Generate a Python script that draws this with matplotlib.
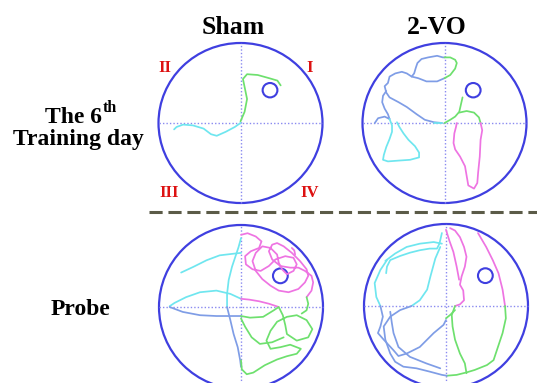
import matplotlib
matplotlib.use('Agg')
import matplotlib.pyplot as plt
from matplotlib.patches import Circle

# ---- figure size in pixels ----
W, H = 537, 383

# ---- swim paths, pool coordinates (pool radius = 100, origin at centre) ----
# Sham, 6th training day
sham_train = {
    'green': [[(0, 2), (5, 14), (8, 30), (5, 45), (3, 55), (8, 61), (21, 60),
               (35, 56), (45, 53), (49, 47)]],
    'cyan': [[(0, 0), (-7, -5), (-18, -11), (-29, -16), (-36, -14), (-45, -7),
              (-58, -3), (-70, -2), (-78, -5), (-81, -8)]],
}
# 2-VO, 6th training day
vo_train = {
    'lightblue': [
        [(-3, 0), (-13, 1), (-24, 4), (-34, 11), (-46, 20), (-56, 26), (-67, 32),
         (-71, 38), (-73, 46), (-69, 50), (-67, 58), (-60, 62), (-52, 64),
         (-46, 62), (-40, 58), (-37, 62), (-35, 69), (-33, 75), (-28, 80),
         (-20, 82), (-9, 84), (-2, 82), (0, 82)],
        [(0, 56), (-9, 52), (-22, 52), (-32, 56), (-40, 58)],
        [(-71, 40), (-75, 34), (-76, 26), (-73, 18), (-69, 11), (-67, 5)],
        [(-85, 0), (-81, 6), (-73, 8), (-67, 5)],
    ],
    'cyan': [
        [(-67, 5), (-64, -3), (-64, -11), (-67, -20), (-71, -30), (-74, -40),
         (-75, -46), (-69, -48), (-56, -47), (-42, -46), (-31, -43), (-31, -37),
         (-36, -29), (-44, -21), (-50, -13), (-55, -5), (-58, 1)],
        [(-13, 0), (-3, 0)],
    ],
    'green': [
        [(0, 82), (7, 82), (13, 79), (15, 75), (13, 68), (7, 60), (0, 56)],
        [(22, 32), (20, 23), (18, 14), (13, 8), (7, 4), (0, 0)],
        [(18, 13), (27, 15), (36, 13), (42, 7), (44, 0)],
    ],
    'magenta': [[(44, 0), (46, -9), (44, -21), (43, -42), (41, -62), (40, -75),
                 (36, -82), (29, -78), (27, -66), (25, -54), (19, -42),
                 (13, -33), (11, -25), (12, -13), (14, -5), (15, 0)]],
}
# Sham, probe trial
sham_probe = {
    'cyan': [
        [(-73, 42), (-58, 49), (-42, 57), (-26, 63), (-9, 65), (0, 66)],
        [(0, 84), (-3, 73), (-7, 61), (-11, 49), (-15, 33), (-17, 16), (-17, 0)],
        [(0, 10), (-13, 16), (-30, 20), (-50, 18), (-67, 12), (-81, 5), (-87, 1)],
    ],
    'lightblue': [
        [(-17, 0), (-13, -16), (-9, -33), (-4, -49), (-1, -65), (0, -73)],
        [(-87, 0), (-71, -6), (-50, -10), (-30, -11), (0, -11)],
    ],
    'magenta': [
        [(0, 88), (8, 90), (18, 86), (25, 80), (22, 72), (12, 68), (5, 62),
         (6, 52), (14, 46), (24, 44), (34, 50), (42, 58), (54, 62), (64, 60),
         (68, 52), (64, 44), (56, 40), (50, 46), (46, 54), (44, 64), (36, 72),
         (26, 74), (18, 66), (14, 56), (18, 44), (26, 34), (36, 26), (46, 20),
         (58, 18), (70, 22), (78, 30), (82, 38), (80, 46), (72, 56), (62, 66),
         (52, 74), (44, 78), (38, 76), (34, 68), (38, 58), (48, 50), (60, 48),
         (70, 48), (78, 44), (86, 38), (88, 30), (86, 20), (80, 12)],
        [(0, 10), (10, 9), (22, 7), (34, 4), (46, 0)],
        [(62, 72), (65, 69), (66, 64)],
    ],
    'green': [
        [(0, -11), (11, -13), (27, -12), (40, -4), (46, 0), (51, -10), (54, -22),
         (56, -33), (68, -41), (82, -37), (87, -27), (80, -16), (68, -10),
         (56, -12), (44, -18), (36, -29), (31, -41), (36, -51), (48, -49),
         (60, -46), (73, -51), (68, -57), (56, -60), (44, -64), (29, -71),
         (15, -80), (7, -82), (1, -76), (0, -65)],
        [(0, -14), (5, -24), (13, -37), (23, -45), (38, -43), (52, -37)],
        [(80, 12), (82, 4), (80, -4), (74, -8)],
    ],
}
# 2-VO, probe trial
vo_probe = {
    'magenta': [
        [(5, 95), (11, 92), (17, 84), (22, 72), (25, 60), (23, 48), (19, 36),
         (17, 26), (21, 19), (22, 7), (17, 2), (11, 0)],
        [(0, 93), (4, 80), (9, 66), (13, 48), (16, 32)],
        [(39, 89), (49, 72), (57, 56), (64, 40), (69, 20), (72, 0)],
    ],
    'green': [
        [(72, 0), (73, -15), (69, -33), (62, -54), (58, -66), (50, -72),
         (35, -78), (25, -81), (13, -84), (1, -85)],
        [(11, 0), (7, -11), (8, -25), (11, -41), (17, -58), (23, -70), (25, -82)],
        [(0, -15), (5, -11), (11, -5)],
    ],
    'cyan': [
        [(-5, 89), (-8, 76), (-11, 70), (-20, 70), (-32, 68), (-44, 65),
         (-56, 61), (-68, 56), (-72, 48), (-73, 40)],
        [(-7, 72), (-13, 58), (-19, 36), (-23, 20), (-32, 7), (-42, 0)],
        [(-72, 56), (-80, 44), (-87, 28), (-85, 11), (-80, 0)],
        [(-74, 55), (-62, 64), (-48, 72), (-32, 76), (-15, 78), (-5, 76)],
    ],
    'lightblue': [
        [(-80, 0), (-77, -13), (-80, -25), (-83, -33), (-76, -41), (-64, -54),
         (-58, -61), (-48, -58), (-32, -50), (-15, -33), (-3, -23), (0, -17)],
        [(-42, 0), (-56, -5), (-68, -13), (-76, -25), (-74, -41), (-68, -58),
         (-62, -68), (-52, -74), (-36, -76), (-20, -80), (-5, -84), (1, -85)],
        [(-68, -7), (-66, -21), (-64, -33), (-58, -50), (-44, -62), (-24, -70),
         (-7, -76)],
    ],
}

# platform positions (pool coords) for each panel
platforms = [(36, 41), (35, 41), (48, 38), (48, 37)]
platform_r = 9

col_titles = ['Sham', '2-VO']
quadrants = ['I', 'II', 'III', 'IV']

colors = {'green': '#6ee06e', 'cyan': '#6fe6ef',
          'lightblue': '#7f9de6', 'magenta': '#ee74e2'}
pool_col = '#3f3fe0'
cross_col = '#8a8af0'

# panel centres / radii in pixels (x, y-from-top, rx, ry)
panels = [(240.5, 123, 82, 80), (444.5, 123, 82, 80),
          (241, 307, 82, 82), (446, 306, 82, 82)]
paths = [sham_train, vo_train, sham_probe, vo_probe]

serif = 'Liberation Serif'

fig = plt.figure(figsize=(W / 100, H / 100), dpi=100)
L = 110
for (cx, cy, rx, ry), pdata, plat in zip(panels, paths, platforms):
    ax = fig.add_axes([(cx - L / 100 * rx) / W, (H - cy - L / 100 * ry) / H,
                       2 * L / 100 * rx / W, 2 * L / 100 * ry / H])
    ax.set_xlim(-L, L)
    ax.set_ylim(-L, L)
    ax.axis('off')
    ax.plot([-100, 100], [0, 0], color=cross_col, lw=1, ls=(0, (1, 1.5)))
    ax.plot([0, 0], [-100, 100], color=cross_col, lw=1, ls=(0, (1, 1.5)))
    for cname, segs in pdata.items():
        for seg in segs:
            xs = [p[0] for p in seg]
            ys = [p[1] for p in seg]
            ax.plot(xs, ys, color=colors[cname], lw=1.25, solid_capstyle='round')
    ax.add_patch(Circle((0, 0), 100, fill=False, ec=pool_col, lw=1.6,
                        clip_on=False))
    ax.add_patch(Circle(plat, platform_r, fill=False, ec=pool_col, lw=1.5))


def ftext(x, y, s, **kw):
    fig.text(x / W, 1 - y / H, s, family=serif, weight='bold', **kw)


# column titles
ftext(233, 34, col_titles[0], fontsize=18.5, ha='center', va='baseline')
ftext(437, 34, col_titles[1], fontsize=18.5, ha='center', va='baseline')

# row labels
ftext(102, 123, 'The 6', fontsize=17, ha='right', va='baseline')
ftext(103, 112, 'th', fontsize=11.5, ha='left', va='baseline')
ftext(78, 145, 'Training day', fontsize=17, ha='center', va='baseline')
ftext(80, 315, 'Probe', fontsize=17, ha='center', va='baseline')

# quadrant labels
red = '#dd1111'
ftext(310, 72, quadrants[0], fontsize=12, ha='center', va='baseline', color=red)
ftext(165, 72, quadrants[1], fontsize=12, ha='center', va='baseline', color=red)
ftext(169, 197, quadrants[2], fontsize=12, ha='center', va='baseline', color=red)
ftext(310, 197, quadrants[3], fontsize=12, ha='center', va='baseline', color=red)

# dashed separator
fig.add_artist(plt.Line2D([149 / W, 1], [1 - 212 / H, 1 - 212 / H],
                          color='#5b5b48', lw=2.2, ls=(0, (4.3, 1.9))))

fig.savefig('out.png', dpi=100)
